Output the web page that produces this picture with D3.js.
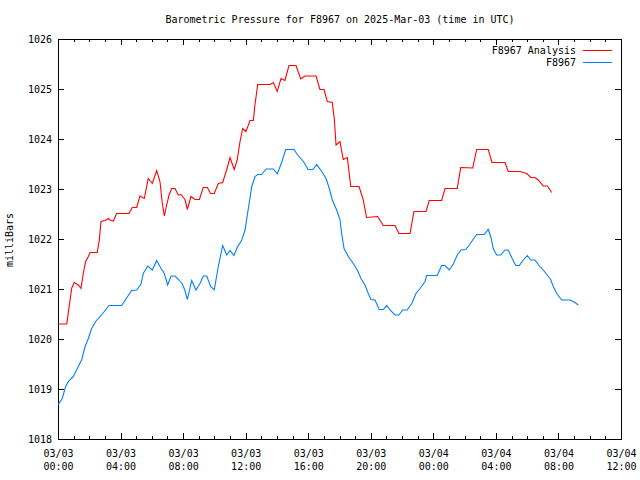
<!DOCTYPE html>
<html>
<head>
<meta charset="utf-8">
<script src="https://cdn.jsdelivr.net/npm/d3@7"></script>
<style>
  html, body { margin: 0; padding: 0; background: #fff; }
  svg { display: block; }
  text { font-family: "DejaVu Sans Mono", "Liberation Mono", monospace; font-size: 10px; fill: #000; }
</style>
</head>
<body>
<svg id="chart" width="640" height="480"></svg>
<script>
// ---- data (hours since 2025-03-03 00:00 UTC, pressure in mbar) ----
const titleText = "Barometric Pressure for F8967 on 2025-Mar-03 (time in UTC)";
const yLabel = "milliBars";
const seriesNames = ["F8967 Analysis", "F8967"];

const redHours = [0, 0.56, 0.77, 0.88, 1.04, 1.30, 1.47, 1.62, 1.77, 1.94, 2.05, 2.51, 2.64, 2.75, 3.01, 3.22, 3.32, 3.54, 3.75, 4.54,
  4.75, 5.03, 5.24, 5.52, 5.77, 6.03, 6.31, 6.52, 6.67, 6.80, 6.95, 7.10, 7.27, 7.48, 7.69, 7.86, 8.12, 8.27, 8.50, 8.76,
  9.04, 9.29, 9.55, 9.76, 9.99, 10.25, 10.53, 10.79, 11.00, 11.27, 11.46, 11.64, 11.81, 12.02, 12.28, 12.49, 12.58, 12.77, 13.56, 13.77,
  14.02, 14.26, 14.51, 14.77, 15.22, 15.52, 15.79, 16.50, 16.75, 17.01, 17.22, 17.54, 17.67, 17.78, 18.03, 18.24, 18.50, 18.72, 19.25, 19.52,
  19.73, 20.44, 20.80, 21.55, 21.80, 22.51, 22.76, 23.53, 23.74, 24.53, 24.75, 25.53, 25.75, 26.52, 26.77, 27.51, 27.75, 28.58, 28.79, 29.54,
  29.97, 30.23, 30.50, 30.71, 31.03, 31.29, 31.57];
const redValues = [1020.30, 1020.30, 1020.78, 1021.02, 1021.13, 1021.08, 1021.01, 1021.32, 1021.55, 1021.65, 1021.73, 1021.73, 1021.98, 1022.35, 1022.37, 1022.41, 1022.38, 1022.36, 1022.51, 1022.51,
  1022.63, 1022.63, 1022.86, 1022.81, 1023.21, 1023.11, 1023.37, 1023.15, 1022.71, 1022.46, 1022.68, 1022.88, 1023.01, 1023.01, 1022.88, 1022.89, 1022.79, 1022.59, 1022.85, 1022.79,
  1022.79, 1023.03, 1023.03, 1022.91, 1022.91, 1023.11, 1023.13, 1023.39, 1023.63, 1023.39, 1023.58, 1023.95, 1024.21, 1024.15, 1024.37, 1024.37, 1024.65, 1025.09, 1025.09, 1025.13,
  1024.95, 1025.21, 1025.17, 1025.47, 1025.47, 1025.20, 1025.26, 1025.26, 1024.99, 1024.99, 1024.75, 1024.73, 1024.39, 1023.88, 1023.95, 1023.59, 1023.63, 1023.05, 1023.05, 1022.78,
  1022.43, 1022.45, 1022.27, 1022.27, 1022.11, 1022.11, 1022.55, 1022.55, 1022.77, 1022.77, 1023.01, 1023.01, 1023.43, 1023.42, 1023.79, 1023.79, 1023.53, 1023.53, 1023.35, 1023.35,
  1023.31, 1023.23, 1023.23, 1023.18, 1023.06, 1023.06, 1022.93];

const blueHours = [0, 0.27, 0.49, 0.66, 0.98, 1.30, 1.52, 1.73, 1.94, 2.15, 2.41, 2.69, 2.96, 3.26, 4.07, 4.28, 4.71, 5.03, 5.31, 5.45,
  5.74, 6.03, 6.31, 6.59, 6.80, 7.01, 7.23, 7.48, 7.74, 7.95, 8.12, 8.27, 8.55, 8.82, 9.08, 9.29, 9.51, 9.76, 9.99, 10.25,
  10.53, 10.79, 11.00, 11.25, 11.46, 11.75, 11.96, 12.17, 12.39, 12.60, 12.77, 13.02, 13.30, 13.77, 14.02, 14.30, 14.56, 15.09, 15.30, 15.69,
  16.00, 16.29, 16.54, 16.86, 17.14, 17.35, 17.54, 17.82, 18.03, 18.14, 18.29, 18.56, 18.88, 19.14, 19.37, 19.63, 19.84, 20.01, 20.27, 20.54,
  20.80, 21.02, 21.23, 21.55, 21.80, 22.04, 22.33, 22.62, 22.89, 23.15, 23.47, 23.57, 24.25, 24.53, 24.74, 25.02, 25.28, 25.53, 25.77, 26.07,
  26.30, 26.56, 26.77, 27.26, 27.51, 27.67, 27.83, 28.05, 28.31, 28.58, 28.79, 29.01, 29.27, 29.50, 29.75, 30.01, 30.24, 30.50, 30.76, 31.08,
  31.50, 31.67, 31.89, 32.21, 32.74, 33.06, 33.27];
const blueValues = [1018.68, 1018.81, 1019.05, 1019.15, 1019.25, 1019.45, 1019.59, 1019.85, 1020.01, 1020.21, 1020.35, 1020.45, 1020.55, 1020.67, 1020.67, 1020.77, 1020.97, 1020.98, 1021.10, 1021.31,
  1021.46, 1021.38, 1021.57, 1021.41, 1021.31, 1021.08, 1021.26, 1021.26, 1021.18, 1021.10, 1020.97, 1020.79, 1021.17, 1020.98, 1021.11, 1021.26, 1021.26, 1021.05, 1020.98, 1021.45,
  1021.87, 1021.68, 1021.77, 1021.67, 1021.83, 1021.98, 1022.18, 1022.61, 1023.05, 1023.25, 1023.29, 1023.29, 1023.40, 1023.40, 1023.30, 1023.53, 1023.79, 1023.79, 1023.69, 1023.55,
  1023.39, 1023.39, 1023.49, 1023.35, 1023.21, 1023.01, 1022.78, 1022.58, 1022.39, 1022.11, 1021.81, 1021.65, 1021.51, 1021.38, 1021.21, 1021.08, 1020.91, 1020.79, 1020.78, 1020.59,
  1020.59, 1020.67, 1020.58, 1020.48, 1020.48, 1020.58, 1020.58, 1020.71, 1020.91, 1021.01, 1021.15, 1021.27, 1021.27, 1021.47, 1021.47, 1021.38, 1021.50, 1021.68, 1021.78, 1021.79,
  1021.88, 1022.00, 1022.09, 1022.09, 1022.19, 1022.05, 1021.81, 1021.68, 1021.68, 1021.78, 1021.78, 1021.63, 1021.47, 1021.47, 1021.58, 1021.67, 1021.58, 1021.58, 1021.47, 1021.36,
  1021.19, 1021.05, 1020.91, 1020.78, 1020.78, 1020.73, 1020.68];

const yTickValues = [1018, 1019, 1020, 1021, 1022, 1023, 1024, 1025, 1026];
const xMajorHours = [0, 4, 8, 12, 16, 20, 24, 28, 32, 36];
const seriesColors = ["#ff0000", "#0080ff"];

// ---- layout ----
const W = 640, H = 480;
const m = { left: 58, right: 19, top: 39, bottom: 41 };
const t0 = Date.UTC(2025, 2, 3, 0, 0, 0);
const toDate = h => new Date(t0 + h * 3600000);

const svg = d3.select("#chart");
const x = d3.scaleUtc().domain([toDate(0), toDate(36)]).range([m.left, W - m.right]);
const y = d3.scaleLinear().domain([1018, 1026]).range([H - m.bottom, m.top]);

const xMajor = xMajorHours.map(toDate);
const xMinor = d3.range(0, 37).filter(h => h % 4 !== 0).map(toDate);

function styleAxis(g) {
  g.select(".domain").remove();
  g.selectAll("line").attr("stroke", "#000").attr("shape-rendering", "crispEdges");
}

// bottom axis: major ticks + two-line labels
const fmtDate = d3.utcFormat("%m/%d"), fmtTime = d3.utcFormat("%H:%M");
svg.append("g").attr("transform", `translate(0,${H - m.bottom})`)
  .call(d3.axisBottom(x).tickValues(xMajor).tickSizeInner(-6).tickSizeOuter(0).tickPadding(10).tickFormat(""))
  .call(styleAxis)
  .call(g => g.selectAll(".tick").each(function(d) {
    const t = d3.select(this).select("text").attr("y", 18).attr("dy", null);
    t.append("tspan").attr("x", 0).text(fmtDate(d));
    t.append("tspan").attr("x", 0).attr("dy", 13).text(fmtTime(d));
  }));
svg.append("g").attr("transform", `translate(0,${H - m.bottom})`)
  .call(d3.axisBottom(x).tickValues(xMinor).tickSizeInner(-3).tickSizeOuter(0).tickFormat(""))
  .call(styleAxis);
// top mirror
svg.append("g").attr("transform", `translate(0,${m.top})`)
  .call(d3.axisTop(x).tickValues(xMajor).tickSizeInner(-6).tickSizeOuter(0).tickFormat(""))
  .call(styleAxis);
svg.append("g").attr("transform", `translate(0,${m.top})`)
  .call(d3.axisTop(x).tickValues(xMinor).tickSizeInner(-3).tickSizeOuter(0).tickFormat(""))
  .call(styleAxis);

// left axis
svg.append("g").attr("transform", `translate(${m.left},0)`)
  .call(d3.axisLeft(y).tickValues(yTickValues).tickSizeInner(-6).tickSizeOuter(0).tickPadding(7).tickFormat(d3.format("d")))
  .call(styleAxis)
  .call(g => g.selectAll("text").attr("x", -6).attr("dy", "0.35em"));
// right mirror
svg.append("g").attr("transform", `translate(${W - m.right},0)`)
  .call(d3.axisRight(y).tickValues(yTickValues).tickSizeInner(-6).tickSizeOuter(0).tickFormat(""))
  .call(styleAxis);

// border
svg.append("rect")
  .attr("x", m.left + 0.5).attr("y", m.top + 0.5)
  .attr("width", W - m.left - m.right).attr("height", H - m.top - m.bottom)
  .attr("fill", "none").attr("stroke", "#000").attr("stroke-width", 1)
  .attr("shape-rendering", "crispEdges");

// lines
const seriesData = [
  d3.zip(redHours, redValues),
  d3.zip(blueHours, blueValues)
];
const line = d3.line().x(d => x(toDate(d[0]))).y(d => y(d[1]));
svg.append("g").selectAll("path").data(seriesData).join("path")
  .attr("d", line)
  .attr("fill", "none")
  .attr("stroke", (d, i) => seriesColors[i])
  .attr("stroke-width", 1.1);

// title
svg.append("text").attr("x", 340).attr("y", 23).attr("text-anchor", "middle").text(titleText);

// y label
svg.append("text").attr("transform", "translate(13,240) rotate(-90)")
  .attr("text-anchor", "middle").text(yLabel);

// legend
const lg = svg.append("g").selectAll("g").data(seriesNames).join("g")
  .attr("transform", (d, i) => `translate(0,${50 + i * 12})`);
lg.append("text").attr("x", 576).attr("y", 0).attr("dy", "0.35em").attr("text-anchor", "end").text(d => d);
lg.append("line").attr("x1", 583).attr("x2", 612).attr("y1", 0.5).attr("y2", 0.5)
  .attr("stroke", (d, i) => seriesColors[i]).attr("stroke-width", 1);
</script>
</body>
</html>
